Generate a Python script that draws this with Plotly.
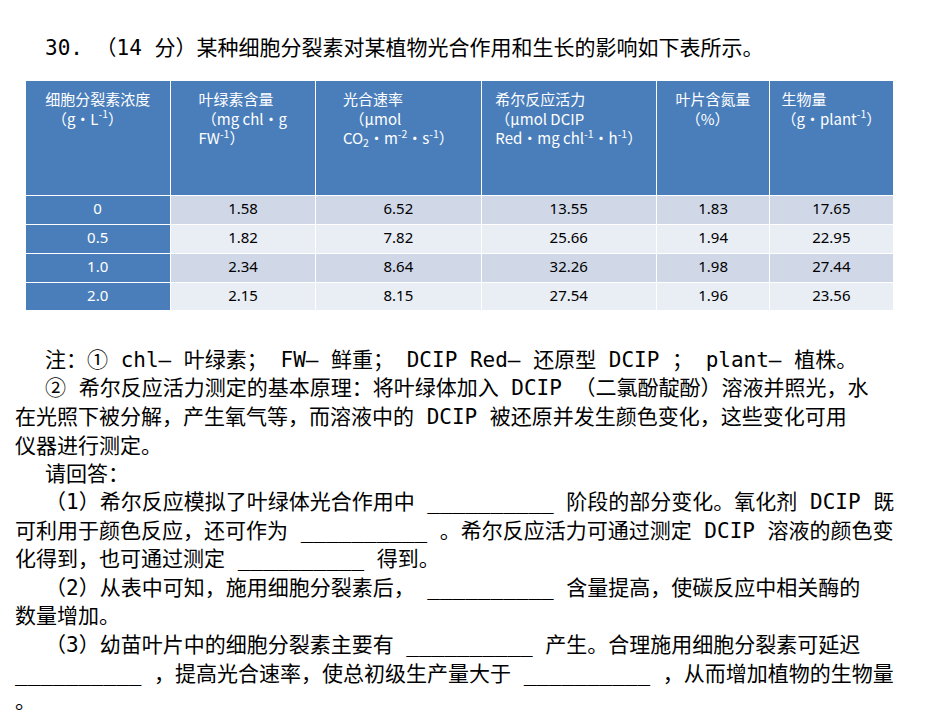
import plotly.graph_objects as go

W, H = 950, 713

headers = [
    "<br>细胞分裂素浓度<br>  （g·L<sup>-1</sup>）",
    "<br>叶绿素含量<br> （mg chl·g<br>FW<sup>-1</sup>）",
    "<br>光合速率<br>  （μmol<br>CO<sub>2</sub>·m<sup>-2</sup>·s<sup>-1</sup>）",
    "<br>希尔反应活力<br>（μmol DCIP<br>Red·mg chl<sup>-1</sup>·h<sup>-1</sup>）",
    "<br>叶片含氮量<br>   （%）",
    "<br>生物量<br>（g·plant<sup>-1</sup>）",
]
concentration = ["0", "0.5", "1.0", "2.0"]
chlorophyll = ["1.58", "1.82", "2.34", "2.15"]
photo_rate = ["6.52", "7.82", "8.64", "8.15"]
hill_activity = ["13.55", "25.66", "32.26", "27.54"]
leaf_nitrogen = ["1.83", "1.94", "1.98", "1.96"]
biomass = ["17.65", "22.95", "27.44", "23.56"]

blue = "#4a7ebb"
row_fill = ["#d0d8e8", "#e9edf4", "#d0d8e8", "#e9edf4"]

fig = go.Figure(go.Table(
    domain=dict(x=[17 / W, 886 / W], y=[1 - 303 / H, 1 - 72 / H]),
    columnwidth=[145, 145, 165, 175, 113, 123],
    header=dict(
        values=headers,
        fill_color=blue,
        line_color="white",
        font=dict(color="white", size=15, family="Noto Sans CJK SC"),
        align="center",
        height=115,
    ),
    cells=dict(
        values=[concentration, chlorophyll, photo_rate, hill_activity, leaf_nitrogen, biomass],
        fill_color=[[blue] * 4] + [row_fill] * 5,
        line_color="white",
        font=dict(color=[["white"] * 4] + [["black"] * 4] * 5, size=15,
                  family="Liberation Sans Narrow, Noto Sans"),
        align="center",
        height=29,
    ),
))

lines = [
    (35, 40, "30. （14 分）某种细胞分裂素对某植物光合作用和生长的影响如下表所示。"),
    (35, 352, "注：① chl— 叶绿素； FW— 鲜重； DCIP Red— 还原型 DCIP ； plant— 植株。"),
    (35, 380, "② 希尔反应活力测定的基本原理：将叶绿体加入 DCIP （二氯酚靛酚）溶液并照光，水"),
    (5, 409, "在光照下被分解，产生氧气等，而溶液中的 DCIP 被还原并发生颜色变化，这些变化可用"),
    (5, 438, "仪器进行测定。"),
    (35, 466, "请回答："),
    (35, 494, "（1）希尔反应模拟了叶绿体光合作用中 __________ 阶段的部分变化。氧化剂 DCIP 既"),
    (5, 523, "可利用于颜色反应，还可作为 __________ 。希尔反应活力可通过测定 DCIP 溶液的颜色变"),
    (5, 551, "化得到，也可通过测定 __________ 得到。"),
    (35, 580, "（2）从表中可知，施用细胞分裂素后， __________ 含量提高，使碳反应中相关酶的"),
    (5, 608, "数量增加。"),
    (35, 637, "（3）幼苗叶片中的细胞分裂素主要有 __________ 产生。合理施用细胞分裂素可延迟"),
    (5, 666, "__________ ，提高光合速率，使总初级生产量大于 __________ ，从而增加植物的生物量"),
    (5, 693, "。"),
]
for x, y, text in lines:
    fig.add_annotation(
        x=x / W, y=1 - y / H, xref="paper", yref="paper",
        xanchor="left", yanchor="middle", showarrow=False,
        text=text,
        font=dict(size=21, color="black", family="DejaVu Sans Mono, Noto Sans CJK SC"),
    )

fig.update_layout(
    width=W, height=H,
    margin=dict(l=0, r=0, t=0, b=0),
    paper_bgcolor="white", plot_bgcolor="white",
)

fig.write_html("out.html")
